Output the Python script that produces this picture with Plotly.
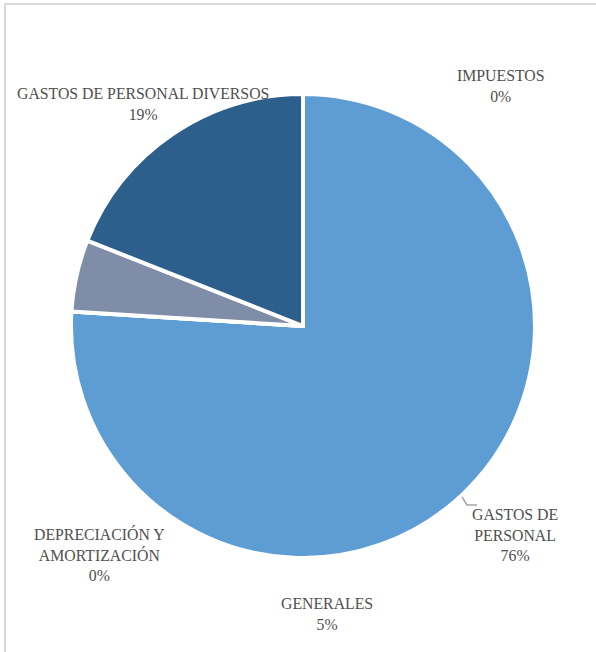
import plotly.graph_objects as go

# Expense categories, in clockwise order starting at 12 o'clock
categories = [
    "GASTOS DE PERSONAL",
    "DEPRECIACIÓN Y AMORTIZACIÓN",
    "GENERALES",
    "GASTOS DE PERSONAL DIVERSOS",
    "IMPUESTOS",
]
# Wrapped label text as shown next to the pie
label_text = [
    "GASTOS DE<br>PERSONAL",
    "DEPRECIACIÓN Y<br>AMORTIZACIÓN",
    "GENERALES",
    "GASTOS DE PERSONAL DIVERSOS",
    "IMPUESTOS",
]
shares = [76, 0, 5, 19, 0]
colors = ["#5E9DD4", "#A5A5A5", "#808DA8", "#2C5F8C", "#264478"]

# Label anchor points (paper pixels from top-left)
label_pos = [(515, 535), (99, 554), (327, 614), (143, 104), (501, 86)]

W, H = 596, 652
cx, cy, r = 303, 326, 232

fig = go.Figure(
    go.Pie(
        labels=categories,
        values=shares,
        sort=False,
        direction="clockwise",
        rotation=0,
        textinfo="none",
        hoverinfo="label+percent",
        marker=dict(colors=colors, line=dict(color="white", width=4)),
        domain=dict(
            x=[(cx - r) / W, (cx + r) / W],
            y=[1 - (cy + r) / H, 1 - (cy - r) / H],
        ),
        showlegend=False,
    )
)

annotations = []
for txt, val, (px, py) in zip(label_text, shares, label_pos):
    annotations.append(
        dict(
            x=px / W,
            y=1 - py / H,
            xref="paper",
            yref="paper",
            text=f"{txt}<br>{val}%",
            showarrow=False,
            xanchor="center",
            yanchor="middle",
            align="center",
            font=dict(family="Liberation Serif", size=15.8, color="#505050"),
        )
    )

shapes = [
    # chart frame
    dict(
        type="rect", xref="paper", yref="paper",
        x0=5 / W, x1=1.02, y0=-0.02, y1=1 - 4 / H,
        line=dict(color="#D9D9D9", width=2), fillcolor="rgba(0,0,0,0)",
    ),
    # leader line for the large slice
    dict(
        type="path", xref="paper", yref="paper",
        path=f"M {462 / W} {1 - 497 / H} L {467 / W} {1 - 505 / H} L {477 / W} {1 - 505 / H}",
        line=dict(color="#A6A6A6", width=1.5),
    ),
]

fig.update_layout(
    width=W,
    height=H,
    margin=dict(l=0, r=0, t=0, b=0),
    paper_bgcolor="white",
    plot_bgcolor="white",
    annotations=annotations,
    shapes=shapes,
)

fig.write_html("out.html")
